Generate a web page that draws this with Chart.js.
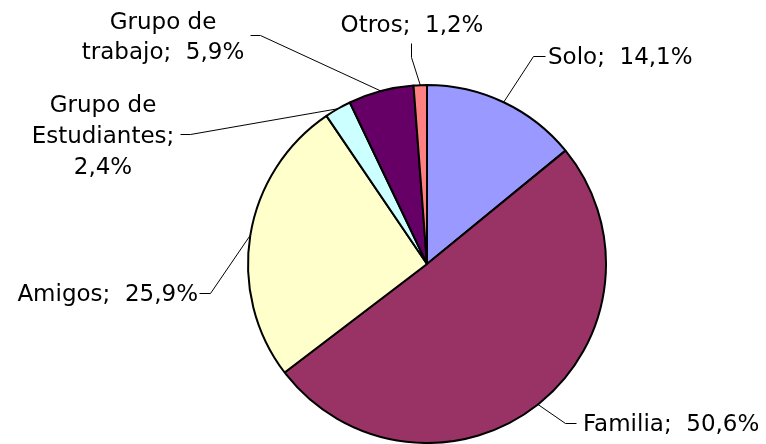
<!DOCTYPE html>
<html>
<head>
<meta charset="utf-8">
<script src="https://cdn.jsdelivr.net/npm/chart.js@4.4.1/dist/chart.umd.min.js"></script>
<style>
html,body{margin:0;padding:0;background:#fff;}
#wrap{width:766px;height:444px;position:relative;}
</style>
</head>
<body>
<div id="wrap"><canvas id="c" width="766" height="444"></canvas></div>
<script>
const categories = ["Solo", "Familia", "Amigos", "Grupo de Estudiantes", "Grupo de trabajo", "Otros"];
const values = [14.1, 50.6, 25.9, 2.4, 5.9, 1.2];
const valueLabels = ["14,1%", "50,6%", "25,9%", "2,4%", "5,9%", "1,2%"];
const colors = ["#9999FF", "#993366", "#FFFFCC", "#CCFFFF", "#660066", "#FF8080"];

// label layout: leader elbow, leader end, text anchor, alignment, text lines
const labelLayout = [
  {elbow:[533,56], end:[545,56], tx:548, ty:[56], align:"left", lines:["Solo;  14,1%"]},
  {elbow:[565,423], end:[576,423], tx:583, ty:[423], align:"left", lines:["Familia;  50,6%"]},
  {elbow:[210,293], end:[199,293], tx:198, ty:[293], align:"right", lines:["Amigos;  25,9%"]},
  {elbow:[190,134], end:[180,134], tx:103, ty:[104,135,166], align:"center", lines:["Grupo de","Estudiantes;","2,4%"]},
  {elbow:[260,35], end:[250,35], tx:163, ty:[21,51], align:"center", lines:["Grupo de","trabajo;  5,9%"]},
  {elbow:[411,57], end:[411,43], tx:412, ty:[24], align:"center", lines:["Otros;  1,2%"]}
];

const FONT_SIZE = 23;
const labelPlugin = {
  id: "pieLabels",
  afterDatasetsDraw(chart) {
    const ctx = chart.ctx;
    const meta = chart.getDatasetMeta(0);
    ctx.save();
    meta.data.forEach((arc, i) => {
      const L = labelLayout[i];
      const mid = (arc.startAngle + arc.endAngle) / 2;
      const sx = arc.x + Math.cos(mid) * arc.outerRadius;
      const sy = arc.y + Math.sin(mid) * arc.outerRadius;
      ctx.strokeStyle = "#000";
      ctx.lineWidth = 1;
      ctx.beginPath();
      ctx.moveTo(sx, sy);
      ctx.lineTo(L.elbow[0] + 0.5, L.elbow[1] + 0.5);
      ctx.lineTo(L.end[0] + 0.5, L.end[1] + 0.5);
      ctx.stroke();
      ctx.fillStyle = "#000";
      ctx.font = FONT_SIZE + "px 'DejaVu Sans'";
      ctx.textAlign = L.align;
      ctx.textBaseline = "alphabetic";
      L.lines.forEach((t, k) => {
        ctx.fillText(t, L.tx, L.ty[k] + FONT_SIZE * 0.36);
      });
    });
    ctx.restore();
  }
};

new Chart(document.getElementById("c"), {
  type: "pie",
  data: {
    labels: categories,
    datasets: [{
      data: values,
      backgroundColor: colors,
      borderColor: "#000",
      borderWidth: 2
    }]
  },
  options: {
    responsive: false,
    animation: false,
    layout: { padding: { left: 247, right: 159, top: 84, bottom: 0 } },
    plugins: { legend: { display: false }, tooltip: { enabled: false } }
  },
  plugins: [labelPlugin]
});
</script>
</body>
</html>
